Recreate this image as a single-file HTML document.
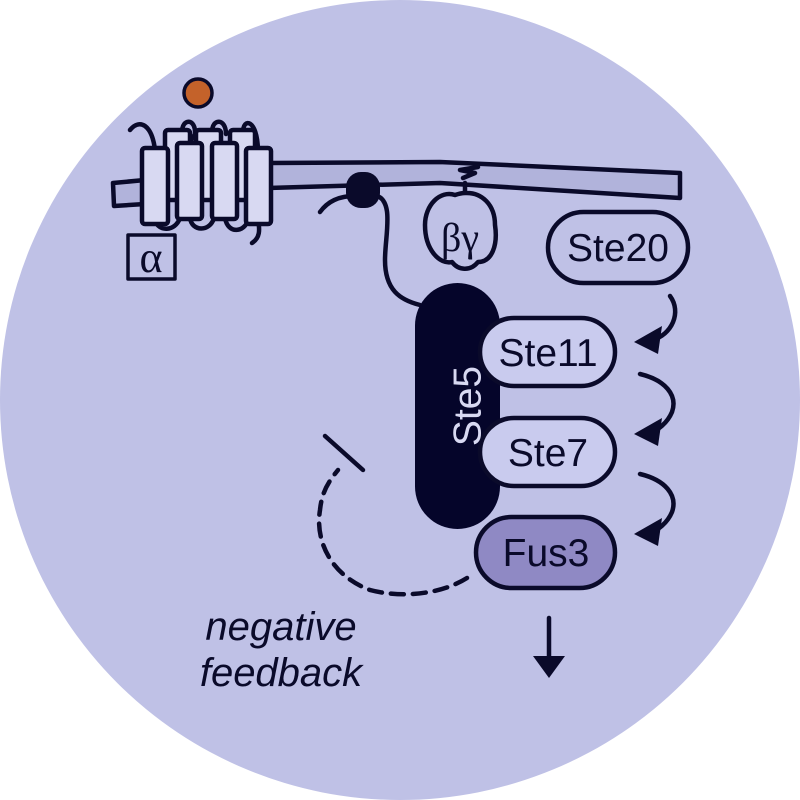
<!DOCTYPE html>
<html><head><meta charset="utf-8"><style>
html,body{margin:0;padding:0;background:#fff;}
svg{display:block}
</style></head><body>
<svg width="800" height="800" viewBox="0 0 800 800" xmlns="http://www.w3.org/2000/svg">
<circle cx="400" cy="400" r="400" fill="#bfc1e6"/>
<g stroke="#0a0a2a" stroke-width="4.5" fill="none" stroke-linecap="round" stroke-linejoin="round">
<polygon points="113,183 145,180 145,204 114,206" fill="#b1b3db"/>
<polygon points="268,163 440,162 680,173 680,198 440,183 268,188" fill="#b1b3db"/>
<path d="M130,130 C140,118 152,125 155,150"/>
<path d="M182,132 C182,118 196,118 195,134 M188,150 C190,140 194,135 196,134"/>
<path d="M212,132 C212,118 226,118 226,134"/>
<path d="M243,132 C243,118 257,118 258,150"/>
<rect x="165" y="130" width="25" height="70" rx="3" fill="#d8d9f2"/>
<rect x="196" y="130" width="25" height="70" rx="3" fill="#d8d9f2"/>
<rect x="230" y="130" width="25" height="70" rx="3" fill="#d8d9f2"/>
<path d="M155,220 C158,232 175,232 180,218"/>
<path d="M190,218 C192,232 210,232 214,218"/>
<path d="M225,218 C228,235 245,232 248,220"/>
<path d="M258,220 C260,230 260,238 252,243"/>
<rect x="142" y="148" width="26" height="76" rx="3" fill="#d8d9f2"/>
<rect x="177" y="143" width="25" height="76" rx="3" fill="#d8d9f2"/>
<rect x="212" y="143" width="25" height="76" rx="3" fill="#d8d9f2"/>
<rect x="246" y="148" width="25" height="76" rx="3" fill="#d8d9f2"/>
<rect x="128" y="235" width="47" height="44" fill="none" stroke-width="3.5"/>
<circle cx="198" cy="93" r="14" fill="#c4622a" stroke-width="3.5"/>
<path d="M320,212 C330,198 345,195 360,196"/>
<path d="M375,195 C395,200 385,235 385,260 C385,290 400,300 420,305"/>
<rect x="346" y="172" width="34" height="36" rx="15" fill="#0a0a2a" stroke="none"/>
<path d="M463,178 l12,-5 l-15,-3 l18,-3 M465,183 l0,10 M455,195 C440,190 425,205 425,225 C425,250 440,265 452,262 C458,270 470,272 478,262 C492,262 498,245 495,225 C495,205 482,192 465,193 C462,193 458,194 455,195 Z"/>
<rect x="415" y="283" width="85" height="246" rx="42.5" fill="#05052a" stroke="none"/>
<rect x="548" y="212" width="140" height="71" rx="35.5" fill="#bfc1e6"/>
<rect x="480" y="318" width="135" height="68" rx="34" fill="#c9cbee"/>
<rect x="480" y="418" width="135" height="68" rx="34" fill="#c9cbee"/>
<rect x="476" y="517" width="139" height="71" rx="35.5" fill="#8f89c4"/>
<path d="M670,296 C682,312 672,335 652,340"/>
<path d="M640,374 C665,380 678,395 672,412 C667,424 657,430 652,432"/>
<path d="M640,474 C665,480 678,495 672,512 C667,524 657,530 652,532"/>
<path d="M467,578 C440,595 400,598 370,590 C330,575 315,540 320,510 C322,490 330,480 338,470" stroke-dasharray="13,9"/>
<path d="M325,436 L363,470"/>
<path d="M549,618 L549,658"/>
</g>
<g fill="#0a0a2a">
<polygon points="634,342 662,326 658,354"/>
<polygon points="634,434 662,418 658,446"/>
<polygon points="634,534 662,518 658,546"/>
<polygon points="533,656 565,656 549,678"/>
</g>
<g font-family="Liberation Sans, sans-serif" fill="#0a0a2a" text-anchor="middle">
<text x="151" y="272" font-family="Liberation Serif, serif" font-size="44">α</text>
<text x="460" y="251" font-family="Liberation Serif, serif" font-size="40">βγ</text>
<text x="618" y="261" font-size="39">Ste20</text>
<text x="548" y="366" font-size="39">Ste11</text>
<text x="548" y="466" font-size="39">Ste7</text>
<text x="546" y="566" font-size="39">Fus3</text>
<text transform="translate(470,406) rotate(-90)" font-size="39" fill="#d8d9f2" dominant-baseline="middle">Ste5</text>
<text x="281" y="640" font-size="40" font-style="italic">negative</text>
<text x="281" y="686" font-size="40" font-style="italic">feedback</text>
</g>
</svg>
</body></html>
